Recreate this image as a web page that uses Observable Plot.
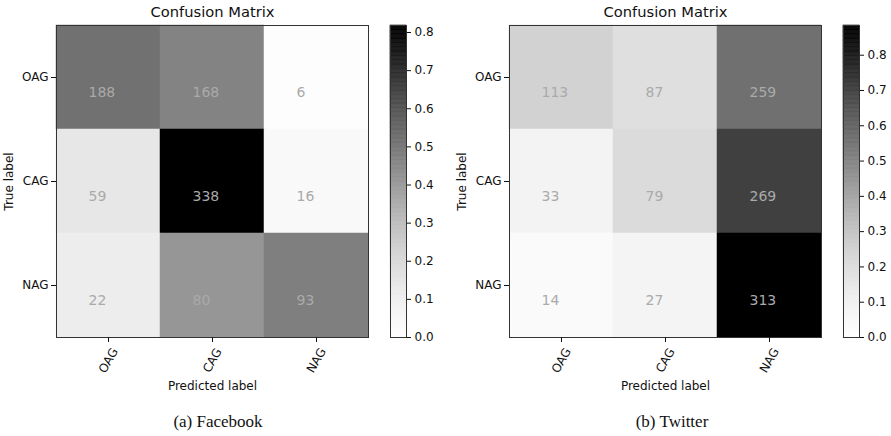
<!DOCTYPE html>
<html>
<head>
<meta charset="utf-8">
<script src="https://cdn.jsdelivr.net/npm/d3@7"></script>
<script src="https://cdn.jsdelivr.net/npm/@observablehq/plot@0.6"></script>
<style>
  html, body { margin: 0; padding: 0; background: white; }
  #root { position: relative; width: 891px; height: 436px; overflow: hidden; font-family: "DejaVu Sans", sans-serif; }
  .abs { position: absolute; top: 0; }
  .caption { position: absolute; font-family: "Liberation Serif", "Times New Roman", serif; font-size: 17px; color: #111; transform: translate(-50%, -50%); white-space: nowrap; }
</style>
</head>
<body>
<div id="root"></div>
<script>
// ---- data ----
const labels = ["OAG", "CAG", "NAG"];
const facebookCounts = [
  [188, 168, 6],
  [59, 338, 16],
  [22, 80, 93]
];
const twitterCounts = [
  [113, 87, 259],
  [33, 79, 269],
  [14, 27, 313]
];
const colorbarTicks = [0, 0.1, 0.2, 0.3, 0.4, 0.5, 0.6, 0.7, 0.8];
const titleText = "Confusion Matrix";
const captions = ["(a) Facebook", "(b) Twitter"];

// ---- build ----
const root = document.getElementById("root");
const font = {fontFamily: "DejaVu Sans", fontSize: "12px", background: "white", overflow: "visible", color: "#111"};

function panel(counts, left, cbLeft, cbWidth, caption, captionX) {
  const cells = [];
  counts.forEach((row, i) => {
    const total = d3.sum(row);
    row.forEach((c, j) => cells.push({t: labels[i], p: labels[j], count: c, value: c / total}));
  });
  const vmax = d3.max(cells, d => d.value);
  const color = {type: "linear", scheme: "Greys", domain: [0, vmax]};

  const heat = Plot.plot({
    width: 390, height: 400,
    marginLeft: 56, marginRight: 22, marginTop: 25, marginBottom: 63,
    style: font,
    x: {type: "band", domain: labels, padding: 0, round: false, axis: null},
    y: {type: "band", domain: labels, padding: 0, round: false, axis: null},
    color,
    marks: [
      Plot.cell(cells, {x: "p", y: "t", fill: "value", stroke: "value", strokeWidth: 0.5}),
      Plot.text(cells, {x: "p", y: "t", text: d => String(d.count), fill: "#aaa", fontSize: 14, textAnchor: "start", dx: -20, dy: 15}),
      Plot.frame({stroke: "#333", strokeWidth: 1}),
      Plot.axisY({tickSize: 5, tickPadding: 3, label: null, fontSize: 12}),
      Plot.axisX({tickSize: 5, tickFormat: () => "", label: null}),
      Plot.text(labels, {x: d => d, frameAnchor: "bottom", dy: 23, rotate: -60, textAnchor: "middle", lineAnchor: "middle", fontSize: 12, fill: "#111"}),
      Plot.text([titleText], {frameAnchor: "top", dy: -13, lineAnchor: "middle", fontSize: 14.7, fill: "#111"}),
      Plot.text(["Predicted label"], {frameAnchor: "bottom", dy: 48.5, lineAnchor: "middle", fontSize: 12, fill: "#111"}),
      Plot.text(["True label"], {frameAnchor: "left", dx: -47, rotate: -90, lineAnchor: "middle", textAnchor: "middle", fontSize: 12, fill: "#111"})
    ]
  });
  heat.classList.add("abs");
  heat.style.left = left + "px";
  root.appendChild(heat);

  const N = 240;
  const slices = d3.range(N).map(i => ({y1: vmax * i / N, y2: vmax * (i + 1) / N, v: vmax * (i + 0.5) / N}));
  const cb = Plot.plot({
    width: cbWidth + 10 + 16, height: 400,
    marginLeft: 10, marginRight: cbWidth, marginTop: 25, marginBottom: 63,
    style: font,
    x: {domain: [0, 1], axis: null},
    y: {domain: [0, vmax], axis: null},
    color,
    marks: [
      Plot.rect(slices, {x1: 0, x2: 1, y1: "y1", y2: "y2", fill: "v", stroke: "v", strokeWidth: 0.6}),
      Plot.frame({stroke: "#333", strokeWidth: 1}),
      Plot.axisY({anchor: "right", ticks: colorbarTicks, tickFormat: ".1f", tickSize: 4, tickPadding: 4, label: null, fontSize: 12})
    ]
  });
  cb.classList.add("abs");
  cb.style.left = cbLeft + "px";
  root.appendChild(cb);

  const cap = document.createElement("div");
  cap.className = "caption";
  cap.textContent = caption;
  cap.style.left = captionX + "px";
  cap.style.top = "422px";
  root.appendChild(cap);
}

panel(facebookCounts, 0, 380, 44, captions[0], 218);
panel(twitterCounts, 453, 833, 32, captions[1], 672);
</script>
</body>
</html>
